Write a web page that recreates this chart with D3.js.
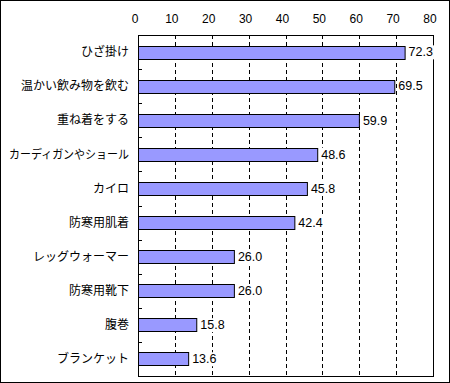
<!DOCTYPE html>
<html><head><meta charset="utf-8">
<script src="https://cdn.jsdelivr.net/npm/d3@7"></script>
<style>body{margin:0;background:#fff}svg{display:block}</style>
</head><body>
<script>
const categories = ["ひざ掛け","温かい飲み物を飲む","重ね着をする","カーディガンやショール","カイロ","防寒用肌着","レッグウォーマー","防寒用靴下","腹巻","ブランケット"];
const values = [72.3,69.5,59.9,48.6,45.8,42.4,26.0,26.0,15.8,13.6];
const ticks = [0,10,20,30,40,50,60,70,80];

const W=450,H=383;
const L=138,R=433,T=35,B=376;
const font="'Liberation Sans', Arial, 'Noto Sans CJK JP', sans-serif";
const svg=d3.select("body").append("svg").attr("width",W).attr("height",H);
svg.append("rect").attr("x",0.5).attr("y",0.5).attr("width",W-1).attr("height",H-1).attr("fill","#fff").attr("stroke","#000");

const x=d3.scaleLinear().domain([0,80]).range([L,R]);
const y=d3.scaleBand().domain(categories).range([T,B]).paddingInner(0.62).paddingOuter(0.31);
const band=(B-T)/categories.length;

// gridlines
svg.append("g").selectAll("line").data(ticks.filter(t=>t>0&&t<80)).join("line")
 .attr("x1",d=>Math.round(x(d))+0.5).attr("x2",d=>Math.round(x(d))+0.5)
 .attr("y1",T).attr("y2",B).attr("stroke","#000").attr("stroke-dasharray","4,3");

// left ticks at band boundaries
svg.append("g").selectAll("line").data(d3.range(1,categories.length)).join("line")
 .attr("x1",L).attr("x2",L+4)
 .attr("y1",d=>Math.round(T+d*band)+0.5).attr("y2",d=>Math.round(T+d*band)+0.5)
 .attr("stroke","#000");

// bars
svg.append("g").selectAll("rect").data(values).join("rect")
 .attr("x",L+0.5).attr("y",(d,i)=>Math.round(y(categories[i]))+0.5)
 .attr("width",d=>x(d)-L).attr("height",Math.round(y.bandwidth()))
 .attr("fill","#9999FF").attr("stroke","#000");

// plot frame
svg.append("rect").attr("x",L+0.5).attr("y",T+0.5).attr("width",R-L).attr("height",B-T)
 .attr("fill","none").attr("stroke","#000");

// value labels with white background
const vg=svg.append("g");
const vl=vg.selectAll("g").data(values).join("g");
const bgs=vl.append("rect").attr("fill","#fff");
vl.append("text")
 .attr("x",d=>x(d)+4).attr("y",(d,i)=>y(categories[i])+y.bandwidth()/2+1)
 .attr("dominant-baseline","middle").attr("font-family",font).attr("font-size",12.5)
 .text(d=>d.toFixed(1))
 .each(function(){ const b=this.getBBox(); d3.select(this.previousSibling).attr("x",b.x-1).attr("y",b.y).attr("width",b.width+2).attr("height",b.height); });

// category labels
svg.append("g").selectAll("text").data(categories).join("text")
 .attr("x",129).attr("y",d=>y(d)+y.bandwidth()/2+1)
 .attr("text-anchor","end").attr("dominant-baseline","middle")
 .attr("font-family",font).attr("font-size",12).text(d=>d)
 .each(function(){ if(this.getComputedTextLength()>120){ d3.select(this).attr("textLength",120).attr("lengthAdjust","spacingAndGlyphs"); } });

// top axis labels
svg.append("g").selectAll("text").data(ticks).join("text")
 .attr("x",d=>x(d)-3).attr("y",23).attr("text-anchor","middle")
 .attr("font-family",font).attr("font-size",12).text(d=>d);
</script>
</body></html>
